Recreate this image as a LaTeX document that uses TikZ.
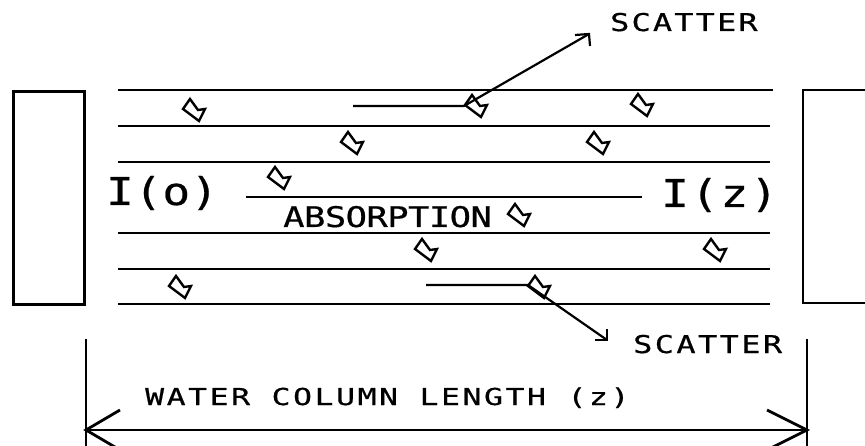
\documentclass[tikz,border=0pt]{standalone}
\usepackage{fontspec}
\newfontfamily\plotfont{DejaVu Sans Mono}
% size, letter spacing, horizontal stretch
\newcommand{\plotsize}[3]{\plotfont\addfontfeature{LetterSpace=#2,FakeStretch=#3,FakeBold=0.6}\fontsize{#1}{#1}\selectfont}
\begin{document}
\begin{tikzpicture}[x=1pt,y=-1pt,
  wall/.style={draw,line width=2.6pt},
  layer/.style={line width=2.8pt},
  ray/.style={line width=2.2pt},
  dimline/.style={line width=2.2pt},
  dimarrow/.style={line width=2.8pt},
  lbl/.style={inner sep=0pt,anchor=base west},
  particle/.pic={\draw[line width=2.4pt,line join=miter]
     (-4,-11) -- (4,0) -- (11,-1) -- (5,11) -- (-11,-1) -- cycle;}]
\useasboundingbox (0,0) rectangle (865,446);

% end walls of the water column
\node[wall,inner sep=0pt,minimum width=71pt,minimum height=213pt,anchor=north west] (leftwall) at (12,90) {};
\draw[wall] (880,90) -- (803,90) -- (803,303) -- (880,303);
\coordinate (rightwall) at (803,196);

% water layers
\foreach \y/\e [count=\i] in {90/773,126/770,162/770,233/770,269/770,304/770}{
  \coordinate (l\i a) at (118,\y);
  \coordinate (l\i b) at (\e,\y);
  \draw[layer] (l\i a) -- (l\i b);
}

% direct beam
\coordinate (beamA) at (246,197);
\coordinate (beamB) at (642,197);
\draw[layer] (beamA) -- (beamB);

% suspended particles
\foreach \px/\py [count=\k] in {194/110,476/106,642/105,352/143,598/143,279/178,519/215,426/250,715/250,180/287,539/287}{
  \coordinate (p\k) at (\px,\py);
  \pic at (p\k) {particle};
}

% scattered rays
\coordinate (s1a) at (353,106);
\coordinate (s1p) at (464,106);
\coordinate (s1t) at (589,34);
\draw[ray] (s1a) -- (s1p) -- (s1t);
\draw[ray] (s1t) ++(-14,1) -- (s1t) -- ++(1,12);

\coordinate (s2a) at (426,285);
\coordinate (s2p) at (528,285);
\coordinate (s2t) at (607,340);
\draw[ray] (s2a) -- (s2p) -- (s2t);
\draw[ray] (s2t) ++(-12,0) -- (s2t) -- ++(0,-11);

% labels
\node[lbl,font=\plotsize{24.5}{9}{1.3}] (scatterTop) at (610,31) {SCATTER};
\node[lbl,font=\plotsize{24.5}{10}{1.3}] (scatterBot) at (633,353) {SCATTER};
\node[lbl,font=\plotsize{28.4}{-2}{1.25}] (absorb) at (283,227) {ABSORPTION};
\node[lbl,font=\plotsize{38.4}{1}{1.2}] (Io) at (106,205) {I(o)};
\node[lbl,font=\plotsize{38.4}{5}{1.2}] (Iz) at (661,207) {I(z)};
\node[lbl,font=\plotsize{23.3}{11}{1.35}] (wcl) at (145,405) {WATER COLUMN LENGTH (z)};

% dimension of the column
\coordinate (d1a) at (86,339);
\coordinate (d1b) at (86,450);
\coordinate (d2a) at (807,339);
\coordinate (d2b) at (807,450);
\draw[dimline] (d1a) -- (d1b);
\draw[dimline] (d2a) -- (d2b);
\coordinate (dl) at (86,430);
\coordinate (dr) at (807,430);
\draw[dimarrow] (dl) -- (dr);
\draw[dimarrow] (dl) ++(34,-20) -- (dl) -- ++(34,20);
\draw[dimarrow] (dr) ++(-40,-20) -- (dr) -- ++(-40,20);
\end{tikzpicture}
\end{document}
